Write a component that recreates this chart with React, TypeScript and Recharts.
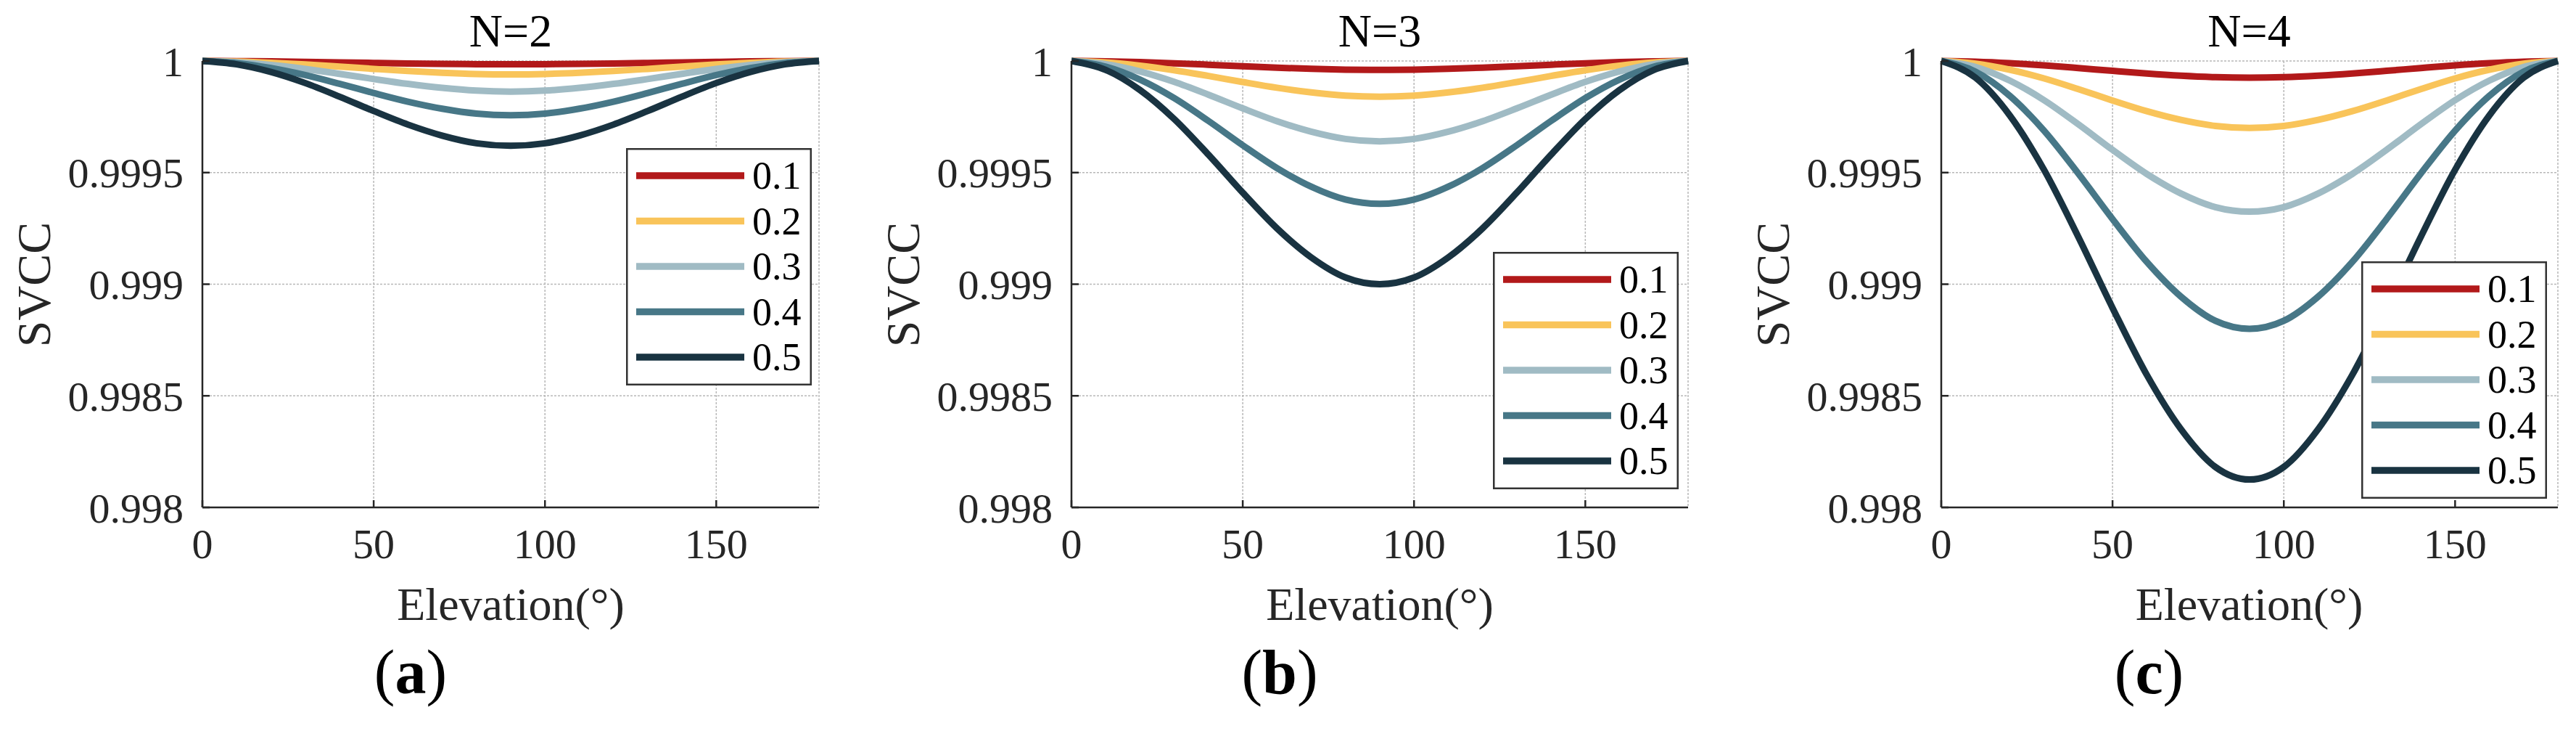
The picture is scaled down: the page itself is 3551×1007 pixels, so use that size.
import React from 'react';
import { LineChart, Line, XAxis, YAxis, CartesianGrid, Legend } from 'recharts';

// ---------- data ----------
const ELEVATION = [0, 10, 20, 30, 40, 50, 60, 70, 80, 90, 100, 110, 120, 130, 140, 150, 160, 170, 180];

const SERIES_NAMES = ['0.1', '0.2', '0.3', '0.4', '0.5'];
const SERIES_COLORS = ['#B2191A', '#F9C45A', '#A0BBC4', '#477787', '#193341'];

const X_TICKS = [0, 50, 100, 150];
const Y_TICKS = [0.998, 0.9985, 0.999, 0.9995, 1];
const Y_TICK_LABELS = ['0.998', '0.9985', '0.999', '0.9995', '1'];

const PANEL_TITLES = ['N=2', 'N=3', 'N=4'];
const PANEL_TAGS = ['a', 'b', 'c'];

// N = 2
const N2_01 = [1, 0.9999994, 0.999998, 0.999996, 0.9999937, 0.9999912, 0.9999888, 0.9999868, 0.9999855, 0.999985, 0.9999855, 0.9999868, 0.9999888, 0.9999912, 0.9999937, 0.999996, 0.999998, 0.9999994, 1];
const N2_02 = [1, 0.9999976, 0.9999922, 0.9999844, 0.9999748, 0.9999646, 0.999955, 0.9999472, 0.9999418, 0.99994, 0.9999418, 0.9999472, 0.999955, 0.9999646, 0.9999748, 0.9999844, 0.9999922, 0.9999976, 1];
const N2_03 = [1, 0.9999945, 0.9999822, 0.9999644, 0.9999425, 0.9999192, 0.9998973, 0.9998794, 0.9998671, 0.999863, 0.9998671, 0.9998794, 0.9998973, 0.9999192, 0.9999425, 0.9999644, 0.9999822, 0.9999945, 1];
const N2_04 = [1, 0.9999903, 0.9999684, 0.9999368, 0.9998979, 0.9998566, 0.9998178, 0.9997862, 0.9997643, 0.999757, 0.9997643, 0.9997862, 0.9998178, 0.9998566, 0.9998979, 0.9999368, 0.9999684, 0.9999903, 1];
const N2_05 = [1, 0.9999848, 0.9999506, 0.9999012, 0.9998404, 0.9997758, 0.999715, 0.9996656, 0.9996314, 0.99962, 0.9996314, 0.9996656, 0.999715, 0.9997758, 0.9998404, 0.9999012, 0.9999506, 0.9999848, 1];

// N = 3
const N3_01 = [1, 0.9999984, 0.9999948, 0.9999896, 0.9999832, 0.9999764, 0.99997, 0.9999648, 0.9999612, 0.99996, 0.9999612, 0.9999648, 0.99997, 0.9999764, 0.9999832, 0.9999896, 0.9999948, 0.9999984, 1];
const N3_02 = [1, 0.9999936, 0.9999792, 0.9999584, 0.9999328, 0.9999056, 0.99988, 0.9998592, 0.9998448, 0.99984, 0.9998448, 0.9998592, 0.99988, 0.9999056, 0.9999328, 0.9999584, 0.9999792, 0.9999936, 1];
const N3_03 = [1, 0.9999856, 0.9999532, 0.9999064, 0.9998488, 0.9997876, 0.99973, 0.9996832, 0.9996508, 0.99964, 0.9996508, 0.9996832, 0.99973, 0.9997876, 0.9998488, 0.9999064, 0.9999532, 0.9999856, 1];
const N3_04 = [1, 0.9999744, 0.9999168, 0.9998336, 0.9997312, 0.9996224, 0.99952, 0.9994368, 0.9993792, 0.99936, 0.9993792, 0.9994368, 0.99952, 0.9996224, 0.9997312, 0.9998336, 0.9999168, 0.9999744, 1];
const N3_05 = [1, 0.99996, 0.99987, 0.99974, 0.99958, 0.99941, 0.99925, 0.99912, 0.99903, 0.999, 0.99903, 0.99912, 0.99925, 0.99941, 0.99958, 0.99974, 0.99987, 0.99996, 1];

// N = 4
const N4_01 = [1, 0.999997, 0.9999903, 0.9999805, 0.9999685, 0.9999558, 0.9999438, 0.999934, 0.9999273, 0.999925, 0.9999273, 0.999934, 0.9999438, 0.9999558, 0.9999685, 0.9999805, 0.9999903, 0.999997, 1];
const N4_02 = [1, 0.999988, 0.999961, 0.999922, 0.999874, 0.999823, 0.999775, 0.999736, 0.999709, 0.9997, 0.999709, 0.999736, 0.999775, 0.999823, 0.999874, 0.999922, 0.999961, 0.999988, 1];
const N4_03 = [1, 0.999973, 0.9999123, 0.9998245, 0.9997165, 0.9996018, 0.9994938, 0.999406, 0.9993453, 0.999325, 0.9993453, 0.999406, 0.9994938, 0.9996018, 0.9997165, 0.9998245, 0.9999123, 0.999973, 1];
const N4_04 = [1, 0.999952, 0.999844, 0.999688, 0.999496, 0.999292, 0.9991, 0.998944, 0.998836, 0.9988, 0.998836, 0.998944, 0.9991, 0.999292, 0.999496, 0.999688, 0.999844, 0.999952, 1];
const N4_05 = [1, 0.999925, 0.9997563, 0.9995125, 0.9992125, 0.9988938, 0.9985938, 0.99835, 0.9981813, 0.998125, 0.9981813, 0.99835, 0.9985938, 0.9988938, 0.9992125, 0.9995125, 0.9997563, 0.999925, 1];

const PANEL_SERIES = [
  [N2_01, N2_02, N2_03, N2_04, N2_05],
  [N3_01, N3_02, N3_03, N3_04, N3_05],
  [N4_01, N4_02, N4_03, N4_04, N4_05],
];

// ---------- layout ----------
const FONT = 'Liberation Serif, Times New Roman, DejaVu Serif, serif';
const AXIS_COLOR = '#262626';
const PANEL_LEFT = [0, 1198, 2396.5];
const LEGEND_POS = [
  { left: 863, top: 204 },
  { left: 860, top: 347 },
  { left: 858, top: 360 },
];
const CHART_W = 1180;
const CHART_H = 840;
const PLOT_LEFT = 279;
const PLOT_W = 850;
const PLOT_TOP = 84;
const X_AXIS_H = 81;
const BOTTOM_PAD = CHART_H - PLOT_TOP - 615 - X_AXIS_H;
const LEG_W = 256;
const LEG_H = 327;

function buildRows(series: number[][]) {
  return ELEVATION.map((x, i) => {
    const row: Record<string, number> = { x };
    series.forEach((s, k) => {
      row['s' + k] = s[i];
    });
    return row;
  });
}

const yFmt = (v: number) => {
  const idx = Y_TICKS.findIndex((t) => Math.abs(t - v) < 1e-9);
  return idx >= 0 ? Y_TICK_LABELS[idx] : String(v);
};

function LegendBox(props: any) {
  const payload = props.payload || [];
  return (
    <svg width={LEG_W} height={LEG_H} style={{ display: 'block' }}>
      <rect x={1.25} y={1.25} width={LEG_W - 2.5} height={LEG_H - 2.5} fill="#fff" stroke="#333" strokeWidth={2.5} />
      {payload.map((entry: any, i: number) => {
        const cy = 38 + i * 62.5;
        return (
          <g key={i}>
            <line x1={14} x2={163} y1={cy} y2={cy} stroke={entry.color} strokeWidth={9.5} />
            <text x={174} y={cy} dy="0.34em" fontSize={54} fontFamily={FONT} fill="#000">
              {entry.value}
            </text>
          </g>
        );
      })}
    </svg>
  );
}

function Panel({ index }: { index: number }) {
  const rows = buildRows(PANEL_SERIES[index]);
  const leg = LEGEND_POS[index];
  const tickLineStyle = { stroke: AXIS_COLOR, strokeWidth: 2.5 };
  return (
    <div style={{ position: 'absolute', left: PANEL_LEFT[index], top: 0, width: CHART_W, height: CHART_H }}>
      <LineChart
        width={CHART_W}
        height={CHART_H}
        data={rows}
        margin={{ top: PLOT_TOP, right: CHART_W - PLOT_LEFT - PLOT_W, bottom: BOTTOM_PAD, left: 0 }}
        style={{ overflow: 'visible' }}
      >
        <CartesianGrid stroke="#b8b8b8" strokeDasharray="3 2" strokeWidth={1.5} />
        <XAxis
          xAxisId="top"
          orientation="top"
          mirror
          height={0}
          dataKey="x"
          type="number"
          domain={[0, 180]}
          ticks={X_TICKS}
          tick={false}
          tickSize={10}
          tickLine={tickLineStyle}
          axisLine={tickLineStyle}
        />
        <YAxis
          yAxisId="right"
          orientation="right"
          mirror
          width={0}
          type="number"
          domain={[0.998, 1]}
          ticks={Y_TICKS}
          tick={false}
          tickSize={10}
          tickLine={tickLineStyle}
          axisLine={tickLineStyle}
        />
        <XAxis
          dataKey="x"
          type="number"
          domain={[0, 180]}
          ticks={X_TICKS}
          height={X_AXIS_H}
          tickSize={-10}
          tickMargin={39}
          tickLine={tickLineStyle}
          axisLine={tickLineStyle}
          tick={{ fontSize: 58, fontFamily: FONT, fill: AXIS_COLOR }}
        />
        <YAxis
          type="number"
          domain={[0.998, 1]}
          ticks={Y_TICKS}
          width={PLOT_LEFT}
          tickSize={-10}
          tickMargin={36}
          tickFormatter={yFmt}
          tickLine={tickLineStyle}
          axisLine={tickLineStyle}
          tick={{ fontSize: 58, fontFamily: FONT, fill: AXIS_COLOR }}
        />
        {SERIES_NAMES.map((name, k) => (
          <Line
            key={name}
            dataKey={'s' + k}
            name={name}
            type="monotone"
            stroke={SERIES_COLORS[k]}
            strokeWidth={9}
            dot={false}
            activeDot={false}
            isAnimationActive={false}
          />
        ))}
        <Legend
          layout="vertical"
          align="center"
          verticalAlign="middle"
          content={<LegendBox />}
          wrapperStyle={{ position: 'absolute', left: leg.left, top: leg.top, width: LEG_W, height: LEG_H }}
        />
      </LineChart>
    </div>
  );
}

function Labels() {
  const cx = PLOT_LEFT + PLOT_W / 2;
  return (
    <svg
      width={3551}
      height={1007}
      style={{ position: 'absolute', left: 0, top: 0, pointerEvents: 'none' }}
      fontFamily={FONT}
    >
      {PANEL_LEFT.map((P, i) => (
        <g key={i}>
          <text x={P + cx} y={64} fontSize={64} textAnchor="middle" fill="#000">
            {PANEL_TITLES[i]}
          </text>
          <text x={P + cx} y={854} fontSize={64} textAnchor="middle" fill={AXIS_COLOR}>
            Elevation(°)
          </text>
          <text transform={`translate(${P + 69},392) rotate(-90)`} fontSize={66} textAnchor="middle" fill={AXIS_COLOR}>
            SVCC
          </text>
          <text x={P + 566} y={955} fontSize={86} textAnchor="middle" fill="#000">
            (<tspan fontWeight="bold">{PANEL_TAGS[i]}</tspan>)
          </text>
        </g>
      ))}
    </svg>
  );
}

export default function App() {
  return (
    <div style={{ position: 'absolute', left: 0, top: 0, width: 3551, height: 1007, background: '#fff', overflow: 'hidden' }}>
      {[0, 1, 2].map((i) => (
        <Panel key={i} index={i} />
      ))}
      <Labels />
    </div>
  );
}
